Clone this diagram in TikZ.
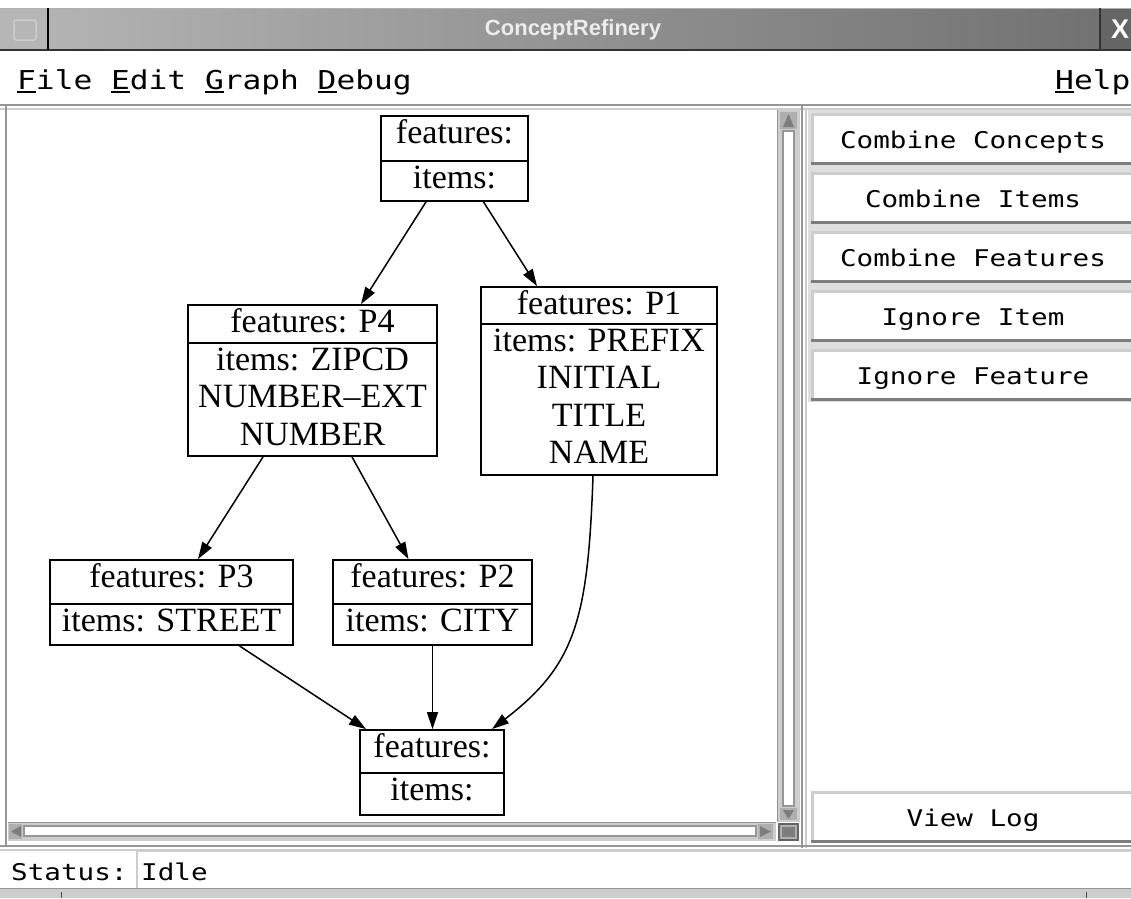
\documentclass[tikz,border=0pt]{standalone}
\usepackage{fontspec}
\setmainfont{Liberation Serif}
\newfontfamily\guifont[FakeStretch=1.2]{DejaVu Sans Mono}
\newfontfamily\titlefont{Liberation Sans}
\usetikzlibrary{arrows.meta}
\definecolor{tbl}{RGB}{182,182,182}
\definecolor{tbr}{RGB}{112,112,112}
\definecolor{ttext}{RGB}{236,236,236}
\definecolor{gline}{RGB}{150,150,150}
\definecolor{glight}{RGB}{205,205,205}
\definecolor{gdark}{RGB}{125,125,125}
\definecolor{gmid}{RGB}{175,175,175}
\definecolor{gpanel}{RGB}{222,222,222}
\newcommand\ulc[1]{\setbox0\hbox{#1}\rlap{\rule[-3.5pt]{\wd0}{1.6pt}}\box0}
\begin{document}
\begin{tikzpicture}[x=1pt,y=-1pt,
  cbox/.style={draw=black, line width=1.8pt, inner sep=0pt},
  divline/.style={draw=black, line width=1.8pt},
  lbl/.style={anchor=base, inner sep=0pt, font=\fontsize{34}{37}\selectfont},
  edge/.style={line width=1.5pt, -{Triangle[length=17pt,width=11pt]}},
  gui/.style={anchor=base, inner sep=0pt, font=\guifont\fontsize{23}{26}\selectfont},
  menu/.style={anchor=base west, inner sep=0pt, font=\guifont\fontsize{26}{30}\selectfont},
  title/.style={inner sep=0pt, text=ttext, font=\titlefont\bfseries\fontsize{22}{24}\selectfont}
]
\useasboundingbox (0,0) rectangle (1131,898);
\fill[white] (0,0) rectangle (1131,898);

% ---- title bar
\shade[left color=tbl, right color=tbr] (0,8) rectangle (1131,50);
\fill[tbl] (0,8) rectangle (48,50);
\fill[tbr!90!black] (1100,8) rectangle (1131,50);
\draw[gmid, line width=1pt] (0,8.5) -- (1131,8.5);
\draw[black!80, line width=2pt] (0,50) -- (1131,50);
\draw[black, line width=1.5pt] (48,8) -- (48,50);
\draw[black!80, line width=1.5pt] (1100,8) -- (1100,50);
\draw[glight, line width=1.5pt, rounded corners=2pt] (14,20) rectangle (36,40);
\node[title] (ttl) at (573,30) {ConceptRefinery};
\node[inner sep=0pt, text=white, font=\titlefont\bfseries\fontsize{27}{27}\selectfont] (closex) at (1120,29) {X};

% ---- menu bar
\node[menu] (mfile) at (17,89) {\ulc{F}ile \ulc{E}dit \ulc{G}raph \ulc{D}ebug};
\node[menu] (mhelp) at (1055,89) {\ulc{H}elp};

% ---- frames
\draw[gline, line width=2.5pt] (0,105) -- (1131,105);
\draw[glight, line width=2pt] (0,108.5) -- (1131,108.5);
\draw[gline, line width=2.5pt] (6,105) -- (6,847);
\draw[gline, line width=2.5pt] (802,105) -- (802,848);
\draw[glight, line width=2pt] (806,108) -- (806,848);
\draw[gline, line width=2.5pt] (0,846) -- (1131,846);
\draw[glight, line width=2pt] (0,849.5) -- (1131,849.5);

% ---- vertical scrollbar
\fill[glight] (777,110) rectangle (800,822);
\draw[gline, line width=1.5pt] (777.5,110) -- (777.5,822);
\fill[gmid] (780,112) rectangle (797,129);
\fill[gdark] (788.5,114) -- (783,127) -- (794,127) -- cycle;
\draw[gline, line width=1.5pt, fill=white] (783,131) rectangle (794,806);
\fill[gmid] (780,808) rectangle (797,820);
\fill[gdark] (783,810) -- (794,810) -- (788.5,819) -- cycle;

% ---- horizontal scrollbar
\fill[glight] (8,822) rectangle (776,841);
\draw[gline, line width=1.5pt] (8,822.5) -- (776,822.5);
\fill[gmid] (9,824) rectangle (22,839);
\fill[gdark] (11,831.5) -- (21,826) -- (21,837) -- cycle;
\draw[gline, line width=1.5pt, fill=white] (24,826) rectangle (756,836);
\fill[gmid] (758,824) rectangle (773,839);
\fill[gdark] (760,826) -- (771,831.5) -- (760,837) -- cycle;
\fill[gdark!80!black] (778,823) rectangle (799,841);
\fill[gmid] (780,825) rectangle (797,839);
\fill[gdark] (782,827) rectangle (795,837);

% ---- right panel buttons
\fill[gpanel] (808,110) rectangle (1131,402);
\foreach \t/\txt in {113/Combine Concepts, 172/Combine Items, 231/Combine Features, 290/Ignore Item, 349/Ignore Feature, 791/View Log}{
  \fill[white] (811,\t) rectangle (1131,\t+50);
  \draw[glight, line width=3pt] (1131,\t+1.5) -- (812.5,\t+1.5) -- (812.5,\t+50);
  \draw[gdark, line width=3pt] (811,\t+50) -- (1131,\t+50);
  \node[gui] (btn\t) at (973,\t+35) {\txt};
}

% ---- status line
\node[gui, anchor=base west] (stlbl) at (11,880) {Status:};
\draw[glight, line width=1.5pt] (137,888) -- (137,851) -- (1131,851);
\node[gui, anchor=base west] (stval) at (141,880) {Idle};
\fill[glight] (0,888) rectangle (1131,898);
\draw[gline, line width=1.5pt] (0,888.5) -- (1131,888.5);
\draw[black!70, line width=1pt] (61,892) -- (61,898);
\draw[black!70, line width=1pt] (1086,892) -- (1086,898);

% ---- graph nodes
\node[cbox, minimum width=147pt, minimum height=85pt] (top) at (454.5,158.5) {};
\draw[divline] (380.5,161) -- (527.5,161);
\node[lbl] (topf) at (454.5,143) {features:};
\node[lbl] (topi) at (454.5,188) {items:};

\node[cbox, minimum width=249pt, minimum height=151pt] (p4) at (312.5,380.5) {};
\draw[divline] (188,343) -- (437,343);
\node[lbl] (p4f) at (312.5,332) {features: P4};
\node[lbl] (p4i1) at (312.5,370) {items: ZIPCD};
\node[lbl] (p4i2) at (312.5,407.5) {NUMBER–EXT};
\node[lbl] (p4i3) at (312.5,445) {NUMBER};

\node[cbox, minimum width=236pt, minimum height=188pt] (p1) at (599,381) {};
\draw[divline] (481,324) -- (717,324);
\node[lbl] (p1f) at (599,314) {features: P1};
\node[lbl] (p1i1) at (599,351) {items: PREFIX};
\node[lbl] (p1i2) at (599,388.5) {INITIAL};
\node[lbl] (p1i3) at (599,426) {TITLE};
\node[lbl] (p1i4) at (599,463.5) {NAME};

\node[cbox, minimum width=243pt, minimum height=85pt] (p3) at (171.5,602.5) {};
\draw[divline] (50,604) -- (293,604);
\node[lbl] (p3f) at (171.5,587) {features: P3};
\node[lbl] (p3i) at (171.5,631) {items: STREET};

\node[cbox, minimum width=199pt, minimum height=85pt] (p2) at (432.5,602.5) {};
\draw[divline] (333,604) -- (532,604);
\node[lbl] (p2f) at (432.5,587) {features: P2};
\node[lbl] (p2i) at (432.5,631) {items: CITY};

\node[cbox, minimum width=144pt, minimum height=85pt] (bot) at (432,772.5) {};
\draw[divline] (360,773) -- (504,773);
\node[lbl] (botf) at (432,757) {features:};
\node[lbl] (boti) at (432,800) {items:};

% ---- edges
\draw[edge] ([xshift=-28.5pt]top.south) -- ([xshift=48.5pt]p4.north);
\draw[edge] ([xshift=29pt]top.south) -- ([xshift=-62pt]p1.north);
\draw[edge] ([xshift=-49.5pt]p4.south) -- ([xshift=26.5pt]p3.north);
\draw[edge] ([xshift=39.5pt]p4.south) -- ([xshift=-24pt]p2.north);
\draw[edge] ([xshift=68pt]p3.south) -- ([xshift=-66pt]bot.north);
\draw[edge] (p2.south) -- (p2.south |- bot.north);
\draw[edge] ([xshift=-6pt]p1.south) .. controls +(-5,145) and +(83,-64) .. ([xshift=60pt]bot.north);
\end{tikzpicture}
\end{document}
